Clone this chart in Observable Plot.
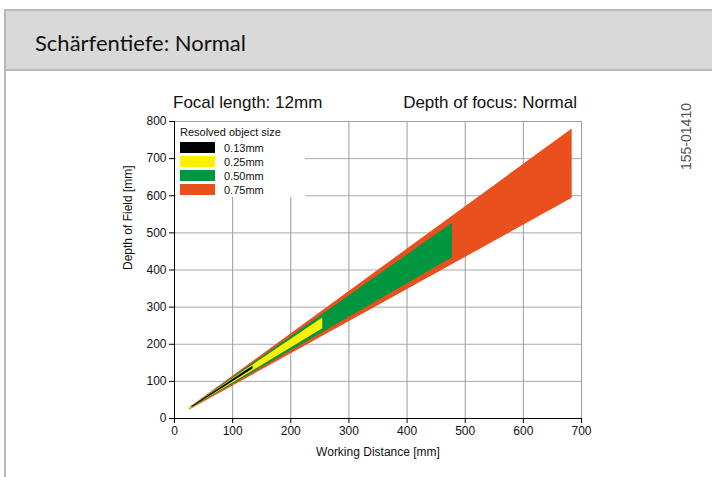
<!DOCTYPE html>
<html><head><meta charset="utf-8">
<script src="https://cdn.jsdelivr.net/npm/d3@7"></script>
<script src="https://cdn.jsdelivr.net/npm/@observablehq/plot@0.6"></script>
<style>
body{margin:0;background:#fff;width:712px;height:477px;overflow:hidden;position:relative;font-family:"Liberation Sans",Arial,sans-serif;}
#frame{position:absolute;left:4px;top:9px;width:760px;height:500px;border-left:2px solid #b9b9b9;border-top:2px solid #b9b9b9;}
#header{position:absolute;left:6px;top:11px;width:760px;height:58px;background:#d9d9d9;border-bottom:2px solid #b9b9b9;}
#htitle{position:absolute;left:35px;top:31px;font-family:Lato,"Open Sans",sans-serif;font-size:22px;color:#111;white-space:nowrap;line-height:24px;}
#chart{position:absolute;left:0;top:71px;}
.ct{position:absolute;font-size:17px;line-height:20px;color:#111;white-space:nowrap;top:93px;}
#code{position:absolute;left:678px;top:170px;transform-origin:0 0;transform:rotate(-90deg);font-size:14px;line-height:16px;color:#555;white-space:nowrap;}
#legend{position:absolute;left:176px;top:122px;width:129px;height:75px;background:#fff;font-size:11px;color:#111;}
#legend .lt{position:absolute;left:4px;top:4px;line-height:12px;white-space:nowrap;}
#legend .sw{position:absolute;left:4px;width:35px;height:11px;}
#legend .lb{position:absolute;left:48px;line-height:12px;white-space:nowrap;}
</style></head><body>
<div id="frame"></div>
<div id="header"></div>
<div id="htitle">Schärfentiefe: Normal</div>
<div id="chart"></div>
<div class="ct" id="t1" style="left:173px">Focal length: 12mm</div>
<div class="ct" id="t2" style="right:135px">Depth of focus: Normal</div>
<div id="code">155-01410</div>
<div id="legend"></div>
<script>
// Series (resolved object size)
const sizes = ["0.13mm", "0.25mm", "0.50mm", "0.75mm"];
const colors = ["#000000", "#fff000", "#009640", "#e9501e"];
// working distance [mm] at start and end of each band
const wdStart = [30, 24, 25, 26];
const wdEnd = [135, 255, 478, 684];
// depth of field limits [mm] at start
const startLow = [29, 23, 24, 23];
const startHigh = [32, 26, 27, 29];
// depth of field limits [mm] at end
const endLow = [133, 242, 433, 593];
const endHigh = [141, 271, 526, 780];
// ticks
const xTicks = [0, 100, 200, 300, 400, 500, 600, 700];
const yTicks = [0, 100, 200, 300, 400, 500, 600, 700, 800];
const legendTitle = "Resolved object size";
const xLabel = "Working Distance [mm]";
const yLabel = "Depth of Field [mm]";

const bands = sizes.map((s, i) => [
  {size: s, wd: wdStart[i], lo: startLow[i], hi: startHigh[i]},
  {size: s, wd: wdEnd[i], lo: endLow[i], hi: endHigh[i]}
]);

const areaMarks = [];
for (let i = sizes.length - 1; i >= 0; i--) {
  areaMarks.push(Plot.areaY(bands[i], {x: "wd", y1: "lo", y2: "hi", fill: colors[i], curve: "linear"}));
}

const chart = Plot.plot({
  width: 712,
  height: 406,
  marginLeft: 174,
  marginRight: 131,
  marginTop: 50,
  marginBottom: 59,
  style: {fontFamily: "'Liberation Sans', Arial, sans-serif", fontSize: "12px", background: "transparent", color: "#111"},
  x: {domain: [0, 700]},
  y: {domain: [0, 800]},
  marks: [
    Plot.gridX(xTicks, {stroke: "#9a9a9a", strokeOpacity: 1}),
    Plot.gridY(yTicks, {stroke: "#a8a8a8", strokeOpacity: 1}),
    Plot.frame({stroke: "#a0a0a0"}),
    ...areaMarks,
    Plot.ruleY([0], {stroke: "#000"}),
    Plot.ruleX([0], {stroke: "#000"}),
    Plot.axisX({ticks: xTicks, tickSize: 5, tickPadding: 3, label: null, stroke: "#000", fontSize: 12}),
    Plot.axisY({ticks: yTicks, tickSize: 5, tickPadding: 3, label: null, stroke: "#000", fontSize: 12}),
    Plot.text([xLabel], {frameAnchor: "bottom", dy: 34, lineAnchor: "middle", fontSize: 12, fill: "#111"}),
    Plot.text([yLabel], {frameAnchor: "left", dx: -46, rotate: -90, lineAnchor: "middle", fontSize: 12, fill: "#111"})
  ]
});
document.getElementById("chart").appendChild(chart);

const lg = document.getElementById("legend");
const t = document.createElement("div");
t.className = "lt"; t.textContent = legendTitle; lg.appendChild(t);
sizes.forEach((s, i) => {
  const sw = document.createElement("div");
  sw.className = "sw"; sw.style.top = (20 + i * 14) + "px"; sw.style.background = colors[i];
  lg.appendChild(sw);
  const lb = document.createElement("div");
  lb.className = "lb"; lb.style.top = (19.5 + i * 14) + "px"; lb.textContent = s;
  lg.appendChild(lb);
});
</script>
</body></html>
